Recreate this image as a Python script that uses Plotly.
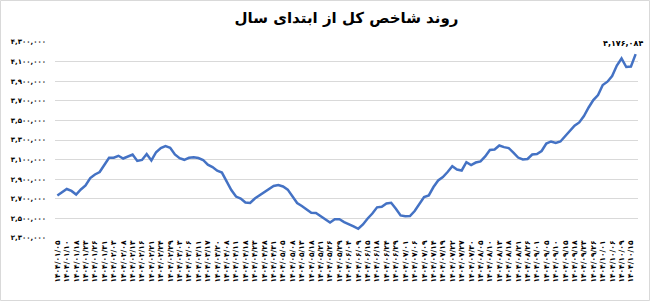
import plotly.graph_objects as go

# Index values (every trading point shown on the line)
index_values = [
    2734000, 2764000, 2800000, 2780000, 2744000, 2795000, 2836000, 2912000, 2948000, 2973000,
    3045000, 3119000, 3119000, 3139000, 3111000, 3132000, 3152000, 3086000, 3096000, 3157000,
    3091000, 3175000, 3218000, 3237000, 3221000, 3152000, 3114000, 3098000, 3118000, 3124000,
    3116000, 3096000, 3048000, 3024000, 2987000, 2968000, 2871000, 2790000, 2723000, 2703000,
    2662000, 2657000, 2703000, 2736000, 2767000, 2800000, 2831000, 2841000, 2826000, 2794000,
    2729000, 2657000, 2627000, 2593000, 2557000, 2555000, 2524000, 2489000, 2458000, 2491000,
    2491000, 2463000, 2445000, 2419000, 2394000, 2438000, 2499000, 2550000, 2613000, 2619000,
    2652000, 2659000, 2598000, 2530000, 2522000, 2524000, 2575000, 2652000, 2718000, 2734000,
    2820000, 2887000, 2922000, 2973000, 3032000, 2999000, 2989000, 3073000, 3045000, 3070000,
    3081000, 3132000, 3198000, 3203000, 3244000, 3227000, 3218000, 3172000, 3121000, 3101000,
    3106000, 3152000, 3157000, 3188000, 3264000, 3285000, 3269000, 3285000, 3338000, 3402000,
    3446000, 3479000, 3545000, 3632000, 3708000, 3759000, 3861000, 3895000, 3953000, 4060000,
    4132000, 4045000, 4050000, 4176084,
]
point_index = list(range(len(index_values)))

# Date tick labels (one label every second point)
date_labels = [
    "۱۴۰۴/۰۱/۰۵", "۱۴۰۴/۰۱/۱۰", "۱۴۰۴/۰۱/۱۸", "۱۴۰۴/۰۱/۲۳", "۱۴۰۴/۰۱/۲۶", "۱۴۰۴/۰۱/۳۱",
    "۱۴۰۴/۰۲/۰۳", "۱۴۰۴/۰۲/۰۸", "۱۴۰۴/۰۲/۱۳", "۱۴۰۴/۰۲/۱۶", "۱۴۰۴/۰۲/۲۱", "۱۴۰۴/۰۲/۲۴",
    "۱۴۰۴/۰۲/۲۹", "۱۴۰۴/۰۳/۰۳", "۱۴۰۴/۰۳/۰۶", "۱۴۰۴/۰۳/۱۱", "۱۴۰۴/۰۳/۱۷", "۱۴۰۴/۰۳/۲۰",
    "۱۴۰۴/۰۴/۰۸", "۱۴۰۴/۰۴/۱۱", "۱۴۰۴/۰۴/۱۸", "۱۴۰۴/۰۴/۲۳", "۱۴۰۴/۰۴/۲۸", "۱۴۰۴/۰۴/۳۱",
    "۱۴۰۴/۰۵/۰۵", "۱۴۰۴/۰۵/۰۸", "۱۴۰۴/۰۵/۱۳", "۱۴۰۴/۰۵/۱۸", "۱۴۰۴/۰۵/۲۱", "۱۴۰۴/۰۵/۲۶",
    "۱۴۰۴/۰۵/۲۹", "۱۴۰۴/۰۶/۰۴", "۱۴۰۴/۰۶/۰۹", "۱۴۰۴/۰۶/۱۵", "۱۴۰۴/۰۶/۱۸", "۱۴۰۴/۰۶/۲۴",
    "۱۴۰۴/۰۶/۲۹", "۱۴۰۴/۰۷/۰۱", "۱۴۰۴/۰۷/۰۶", "۱۴۰۴/۰۷/۰۹", "۱۴۰۴/۰۷/۱۴", "۱۴۰۴/۰۷/۱۹",
    "۱۴۰۴/۰۷/۲۲", "۱۴۰۴/۰۷/۲۷", "۱۴۰۴/۰۷/۳۰", "۱۴۰۴/۰۸/۰۵", "۱۴۰۴/۰۸/۱۰", "۱۴۰۴/۰۸/۱۳",
    "۱۴۰۴/۰۸/۱۸", "۱۴۰۴/۰۸/۲۱", "۱۴۰۴/۰۸/۲۶", "۱۴۰۴/۰۹/۰۱", "۱۴۰۴/۰۹/۰۵", "۱۴۰۴/۰۹/۱۰",
    "۱۴۰۴/۰۹/۱۵", "۱۴۰۴/۰۹/۱۸", "۱۴۰۴/۰۹/۲۳", "۱۴۰۴/۰۹/۲۶", "۱۴۰۴/۱۰/۰۱", "۱۴۰۴/۱۰/۰۶",
    "۱۴۰۴/۱۰/۰۹", "۱۴۰۴/۱۰/۱۵",
]
date_tick_positions = point_index[::2][:len(date_labels)]

y_tick_values = [2300000, 2500000, 2700000, 2900000, 3100000, 3300000, 3500000, 3700000, 3900000, 4100000, 4300000]
y_tick_labels = ["۲,۳۰۰,۰۰۰", "۲,۵۰۰,۰۰۰", "۲,۷۰۰,۰۰۰", "۲,۹۰۰,۰۰۰", "۳,۱۰۰,۰۰۰", "۳,۳۰۰,۰۰۰",
                 "۳,۵۰۰,۰۰۰", "۳,۷۰۰,۰۰۰", "۳,۹۰۰,۰۰۰", "۴,۱۰۰,۰۰۰", "۴,۳۰۰,۰۰۰"]

title_text = "روند شاخص کل از ابتدای سال"
last_label = "۴,۱۷۶,۰۸۴"

FONT = "DejaVu Sans"
W, H = 650, 301
ML, MR, MT, MB = 55, 12, 42, 63
PW, PH = W - ML - MR, H - MT - MB

fig = go.Figure()
fig.add_trace(go.Scatter(
    x=point_index, y=index_values, mode="lines",
    line=dict(color="#4472C4", width=2.5),
    hoverinfo="skip", showlegend=False,
))

fig.add_annotation(
    x=point_index[-1], y=index_values[-1], text="<b>" + last_label + "</b>",
    showarrow=False, xanchor="center", yanchor="bottom", xshift=-13, yshift=4,
    font=dict(family=FONT, size=8, color="#000000"),
)

fig.add_shape(
    type="rect", xref="paper", yref="paper",
    x0=-(ML - 0.5) / PW, x1=1 + (MR - 0.5) / PW,
    y0=-(MB - 0.5) / PH, y1=1 + (MT - 0.5) / PH,
    line=dict(color="#d9d9d9", width=1), layer="below",
)

fig.update_layout(
    width=W, height=H,
    margin=dict(l=ML, r=MR, t=MT, b=MB),
    paper_bgcolor="white", plot_bgcolor="white",
    title=dict(text="<b>" + title_text + "</b>", x=0.5, xref="paper", xanchor="center",
               y=1 - 18 / H, yanchor="middle",
               font=dict(family=FONT, size=15, color="#000000")),
    xaxis=dict(
        range=[-0.5, len(index_values) - 0.5],
        tickmode="array", tickvals=date_tick_positions,
        ticktext=["<b>" + t + "</b>" for t in date_labels],
        tickangle=-90, tickfont=dict(family=FONT, size=7.5, color="#000000"),
        showgrid=False, zeroline=False, showline=False, ticks="",
    ),
    yaxis=dict(
        range=[2300000, 4300000],
        tickmode="array", tickvals=y_tick_values,
        ticktext=["<b>" + t + "</b>" for t in y_tick_labels],
        tickfont=dict(family=FONT, size=7, color="#000000"),
        showgrid=True, gridcolor="#d9d9d9", gridwidth=1,
        zeroline=False, showline=False, ticks="", ticklabelstandoff=8,
    ),
)

fig.write_html("out.html")
